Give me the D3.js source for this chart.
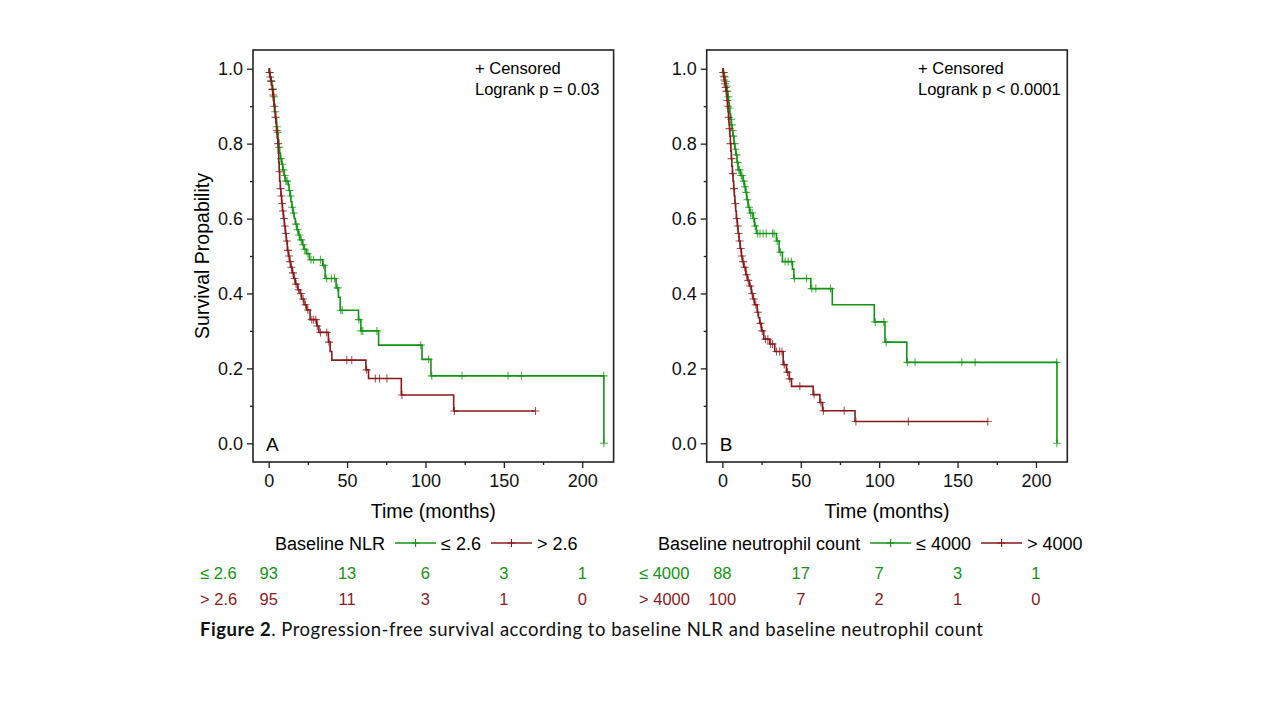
<!DOCTYPE html>
<html>
<head>
<meta charset="utf-8">
<script src="https://cdn.jsdelivr.net/npm/d3@7"></script>
<style>
  body { margin: 0; background: #fff; }
  svg { display: block; }
  text { font-family: "Liberation Sans", Arial, sans-serif; }
</style>
</head>
<body>
<svg id="chart" width="1280" height="720"></svg>
<script>
// time axis and risk table points
var timeTicks = [0, 50, 100, 150, 200];
var timeMinor = [25, 75, 125, 175];
var survTicks = [0, 0.2, 0.4, 0.6, 0.8, 1.0];
var survMinor = [0.1, 0.3, 0.5, 0.7, 0.9];

// Panel A: baseline NLR <= 2.6 (steps are [time, survival after event])
var nlrLowSteps = [[0.5,.99],[1,.978],[1.5,.967],[2,.956],[2.5,.945],[3,.925],[3.5,.905],[4,.885],[4.5,.865],[5,.845],
  [5.5,.83],[6,.81],[6.5,.79],[7,.775],[7.5,.76],[8.3,.745],[9,.73],[9.8,.715],[10.5,.70],[12.5,.69],[13,.675],
  [13.6,.66],[14.2,.645],[14.8,.63],[15.5,.615],[16.3,.60],[17,.585],[18,.57],[19,.556],[20,.543],[21.5,.53],
  [22.5,.518],[24,.506],[26,.49],[34.5,.475],[36,.44],[43,.415],[44.5,.39],[45.6,.355],[57.3,.33],[58.8,.30],
  [70.1,.262],[97.8,.224],[103.5,.18],[213.8,0]];
var nlrLowCensor = [0.8,1.7,2.7,3.3,4.2,5.2,5.8,6.8,7.8,8.7,9.4,10.2,11,11.8,13.3,14,15,16,17.5,18.5,19.5,20.8,22,
  23,25,27,28.5,33,35,37,40,42,44,46,47,57.5,59,60,69,97,102,104,123.3,152.7,161.2,213.7,213.8];
var nlrLowEnd = 213.8;

// Panel A: baseline NLR > 2.6
var nlrHighSteps = [[0.3,.99],[0.8,.978],[1.3,.967],[1.8,.956],[2.2,.945],[2.6,.93],[3,.915],[3.4,.90],[3.8,.885],
  [4.2,.87],[4.6,.855],[5,.835],[5.4,.815],[5.8,.80],[6.1,.775],[6.4,.75],[6.7,.725],[7,.70],[7.4,.68],[7.8,.66],
  [8.3,.64],[8.8,.62],[9.4,.60],[10,.58],[10.6,.56],[11.2,.54],[11.9,.515],[12.6,.50],[13.3,.485],[14,.47],
  [15,.455],[16,.44],[17,.425],[18.5,.41],[20,.40],[21,.385],[22.5,.37],[24.3,.356],[26.4,.33],[30.7,.313],
  [32,.296],[38.1,.27],[39.2,.245],[40.3,.222],[62,.196],[63.7,.173],[84.6,.129],[118,.086]];
var nlrHighCensor = [0.5,1,1.6,2.4,2.9,3.6,4.4,5.2,6,6.9,7.6,8.1,8.6,9.1,9.8,10.3,11,11.6,12.3,13,13.7,14.5,15.5,
  16.5,17.5,19,20.5,22,23.5,25,27.5,28.7,30,31,33,37,38.5,49.8,53,62.5,68,70.7,75.4,85,118.5,170.2];
var nlrHighEnd = 170.2;

// Panel B: baseline neutrophil count <= 4000
var neuLowSteps = [[0.5,.99],[1.2,.978],[1.8,.966],[2.4,.954],[3,.94],[3.5,.925],[4,.91],[4.4,.895],[4.8,.88],
  [5.2,.865],[5.7,.85],[6.2,.835],[6.7,.82],[7.4,.80],[8,.785],[8.6,.77],[9.3,.75],[10,.73],[11.5,.715],[13.2,.70],
  [14,.685],[14.8,.67],[15.5,.65],[16.4,.63],[17.5,.615],[19.6,.60],[20.5,.58],[21.7,.56],[34.5,.54],[36.2,.51],
  [38.3,.485],[44.7,.465],[45.6,.44],[56.4,.413],[70.1,.37],[96.9,.324],[103.7,.27],[117.6,.216],[213.4,0]];
var neuLowCensor = [0.9,1.5,2.1,2.7,3.3,3.8,4.6,5.5,6,6.5,7,7.8,8.3,9,9.6,10.5,11,12,12.5,13.6,14.4,15.2,16,17,18,
  19,20,21,22.5,24,26,28,32,33,35,37,40,42,44,46,53.7,57,59.6,69,97.5,103,104.5,118,122.9,152.7,161.2,213.3,213.4];
var neuLowEnd = 213.4;

// Panel B: baseline neutrophil count > 4000
var neuHighSteps = [[0.3,.99],[0.7,.98],[1.1,.97],[1.5,.96],[1.9,.95],[2.3,.94],[2.7,.93],[3,.915],[3.3,.90],
  [3.6,.885],[3.9,.87],[4.2,.855],[4.5,.84],[4.8,.82],[5.1,.80],[5.4,.78],[5.7,.76],[6,.74],[6.4,.72],[6.8,.70],
  [7.2,.68],[7.6,.66],[8,.64],[8.5,.62],[8.9,.60],[9.5,.58],[10,.56],[10.6,.54],[11.3,.52],[12.1,.50],[12.8,.485],
  [13.6,.47],[14.9,.45],[16,.435],[17.2,.42],[18.5,.40],[19.5,.385],[20.5,.37],[22.2,.35],[23,.335],[23.8,.32],
  [24.9,.30],[26.4,.278],[30.2,.265],[33.4,.245],[38.8,.21],[40.9,.19],[42.6,.172],[44.1,.152],[57.9,.13],
  [62.2,.109],[63.9,.087],[84.6,.058]];
var neuHighCensor = [0.5,0.9,1.3,1.7,2.1,2.5,3.1,3.5,4,4.6,5.2,5.9,6.6,7.4,8.2,9.2,9.8,10.3,11,11.7,12.4,13.2,14.2,
  15.5,16.5,17.8,19,20,21.3,22.6,24.3,25.5,27.5,29,30.8,32,34.5,36.5,38,39.5,41.5,43,49.4,58.5,62.8,64.5,77.7,
  85.2,118.6,169.3];
var neuHighEnd = 169.3;

// numbers at risk at timeTicks
var nlrLowRisk = [93, 13, 6, 3, 1];
var nlrHighRisk = [95, 11, 3, 1, 0];
var neuLowRisk = [88, 17, 7, 3, 1];
var neuHighRisk = [100, 7, 2, 1, 0];

var green = "#129412";
var red = "#8b1a1a";

var svg = d3.select("#chart");

// value of a KM step curve at time t
function survAt(steps, t) {
    var s = 1;
    steps.forEach(function (d) { if (d[0] <= t) s = d[1]; });
    return s;
}

function stepPath(steps, end, x, y) {
    var p = "M" + x(0) + "," + y(1);
    var prev = 1;
    steps.forEach(function (d) {
        p += "L" + x(d[0]) + "," + y(prev) + "L" + x(d[0]) + "," + y(d[1]);
        prev = d[1];
    });
    p += "L" + x(end) + "," + y(prev);
    return p;
}

function plusPath(cx, cy, r) {
    return "M" + (cx - r) + "," + cy + "h" + (2 * r) + "M" + cx + "," + (cy - r) + "v" + (2 * r);
}

function drawPanel(p) {
    var top = 50, bottom = 462, w = 360.6;
    var x = d3.scaleLinear().domain([-10, 220]).range([p.left, p.left + w]);
    var y = d3.scaleLinear().domain([-0.05, 1.05]).range([bottom, top]);
    var g = svg.append("g");

    // axes
    g.append("g").attr("transform", "translate(0," + bottom + ")")
        .call(d3.axisBottom(x).tickValues(timeTicks).tickSize(6).tickPadding(6));
    g.append("g").attr("transform", "translate(0," + bottom + ")")
        .call(d3.axisBottom(x).tickValues(timeMinor).tickSize(3).tickFormat(""));
    g.append("g").attr("transform", "translate(" + p.left + ",0)")
        .call(d3.axisLeft(y).tickValues(survTicks).tickSize(6).tickPadding(4).tickFormat(d3.format(".1f")));
    g.append("g").attr("transform", "translate(" + p.left + ",0)")
        .call(d3.axisLeft(y).tickValues(survMinor).tickSize(3).tickFormat(""));
    g.selectAll(".domain").remove();
    g.selectAll(".tick line").attr("stroke", "#222").attr("stroke-width", 1.3);
    g.selectAll(".tick text").style("font-size", "18px").attr("fill", "#111")
        .style("font-family", '"Liberation Sans", Arial, sans-serif');

    g.append("rect")
        .attr("x", p.left).attr("y", top).attr("width", w).attr("height", bottom - top)
        .attr("fill", "none").attr("stroke", "#222").attr("stroke-width", 1.6);

    // curves
    p.series.forEach(function (s) {
        g.append("path")
            .attr("d", stepPath(s.steps, s.end, x, y))
            .attr("fill", "none").attr("stroke", s.color).attr("stroke-width", 1.6);
        g.append("path")
            .attr("d", s.censor.map(function (c) { return plusPath(x(c), y(survAt(s.steps, c)), 4); }).join(""))
            .attr("fill", "none").attr("stroke", s.color).attr("stroke-width", 1.1).attr("opacity", 0.75);
    });

    // text inside the frame
    g.append("text").attr("x", p.annX).attr("y", 74).style("font-size", "16.5px").text("+ Censored");
    g.append("text").attr("x", p.annX).attr("y", 95).style("font-size", "16.5px").text(p.logrank);
    g.append("text").attr("x", p.left + 13).attr("y", 451).style("font-size", "19px").text(p.tag);

    // axis titles
    g.append("text").attr("x", p.left + w / 2).attr("y", 518).attr("text-anchor", "middle")
        .style("font-size", "19.5px").text("Time (months)");
    if (p.yTitle) {
        g.append("text").attr("transform", "translate(" + (p.left - 44) + "," + ((top + bottom) / 2) + ") rotate(-90)")
            .attr("text-anchor", "middle").style("font-size", "19.5px").text(p.yTitle);
    }

    // legend, laid out left to right
    var lx = p.legendX, ly = 550;
    var t = g.append("text").attr("x", lx).attr("y", ly).style("font-size", "18px").text(p.legendTitle);
    lx += t.node().getComputedTextLength() + 10;
    p.series.forEach(function (s) {
        g.append("line").attr("x1", lx).attr("x2", lx + 41).attr("y1", ly - 7).attr("y2", ly - 7)
            .attr("stroke", s.color).attr("stroke-width", 1.6);
        g.append("path").attr("d", plusPath(lx + 20.5, ly - 7, 4))
            .attr("stroke", s.color).attr("stroke-width", 1.1);
        lx += 46;
        var lt = g.append("text").attr("x", lx).attr("y", ly).style("font-size", "18px").text(s.label);
        lx += lt.node().getComputedTextLength() + 10;
    });

    // numbers at risk
    p.series.forEach(function (s, i) {
        var ry = 579 + i * 26;
        g.append("text").attr("x", p.riskX).attr("y", ry).attr("fill", s.color)
            .style("font-size", "16.5px").text(s.label);
        g.selectAll(null).data(s.risk).enter().append("text")
            .attr("x", function (d, k) { return x(timeTicks[k]); })
            .attr("y", ry).attr("text-anchor", "middle").attr("fill", s.color)
            .style("font-size", "16.5px").text(function (d) { return d; });
    });
}

drawPanel({
    left: 253, tag: "A", logrank: "Logrank p = 0.03", yTitle: "Survival Propability", annX: 475,
    legendX: 275, legendTitle: "Baseline NLR", riskX: 200,
    series: [
        { label: "\u2264 2.6", color: green, steps: nlrLowSteps, censor: nlrLowCensor, end: nlrLowEnd, risk: nlrLowRisk },
        { label: "> 2.6", color: red, steps: nlrHighSteps, censor: nlrHighCensor, end: nlrHighEnd, risk: nlrHighRisk }
    ]
});

drawPanel({
    left: 706.7, tag: "B", logrank: "Logrank p < 0.0001", yTitle: null, annX: 918,
    legendX: 658, legendTitle: "Baseline neutrophil count", riskX: 639,
    series: [
        { label: "\u2264 4000", color: green, steps: neuLowSteps, censor: neuLowCensor, end: neuLowEnd, risk: neuLowRisk },
        { label: "> 4000", color: red, steps: neuHighSteps, censor: neuHighCensor, end: neuHighEnd, risk: neuHighRisk }
    ]
});

// figure caption
var cap = svg.append("text").attr("x", 200).attr("y", 636)
    .attr("textLength", 783).attr("lengthAdjust", "spacing")
    .style("font-family", 'Lato, "Open Sans", sans-serif').style("font-size", "18.5px").attr("fill", "#111");
cap.append("tspan").style("font-weight", "bold").text("Figure 2");
cap.append("tspan").text(". Progression-free  survival  according to  baseline  NLR and baseline neutrophil count");
</script>
</body>
</html>
